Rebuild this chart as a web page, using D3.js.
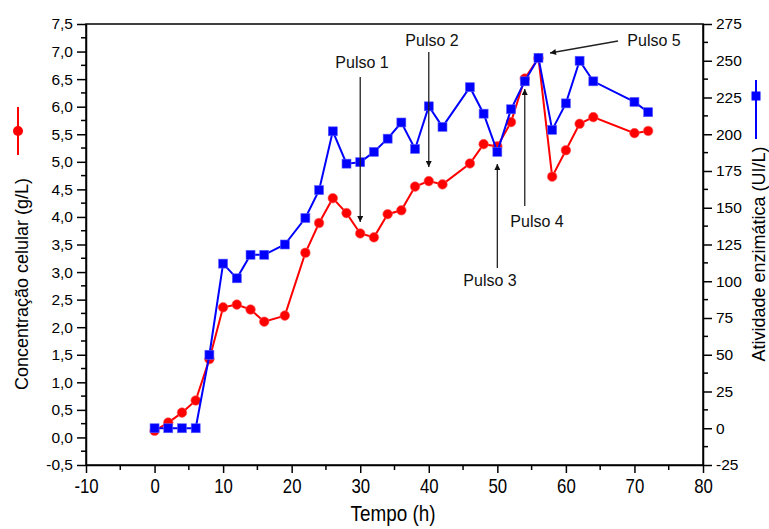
<!DOCTYPE html>
<html>
<head>
<meta charset="utf-8">
<script src="https://cdn.jsdelivr.net/npm/d3@7"></script>
<style>
  html, body { margin: 0; padding: 0; background: #fff; }
  svg { display: block; font-family: "Liberation Sans", Arial, sans-serif; }
</style>
</head>
<body>
<svg id="chart" width="769" height="529"></svg>
<script>
// Cultivation time (h)
const tempo = [0, 2, 4, 6, 8, 10, 12, 14, 16, 19, 22, 24, 26, 28, 30, 32, 34, 36, 38, 40, 42, 46, 48, 50, 52, 54, 56, 58, 60, 62, 64, 70, 72];
// Cell concentration (g/L) — left axis
const concentracao = [0.12, 0.27, 0.45, 0.67, 1.42, 2.36, 2.41, 2.32, 2.10, 2.21, 3.35, 3.89, 4.34, 4.07, 3.70, 3.63, 4.05, 4.12, 4.55, 4.65, 4.59, 4.97, 5.32, 5.28, 5.72, 6.51, 6.88, 4.73, 5.21, 5.69, 5.81, 5.52, 5.56];
// Enzyme activity (UI/L) — right axis
const atividade = [0, 0, 0, 0, 50, 112, 102, 118, 118, 125, 143, 162, 202, 180, 181, 188, 197, 208, 190, 219, 205, 232, 214, 188, 217, 236, 252, 203, 221, 250, 236, 222, 215];

// Axis ticks
const xTicks = [-10, 0, 10, 20, 30, 40, 50, 60, 70, 80];
const yLeftTicks = [-0.5, 0, 0.5, 1, 1.5, 2, 2.5, 3, 3.5, 4, 4.5, 5, 5.5, 6, 6.5, 7, 7.5];
const yRightTicks = [-25, 0, 25, 50, 75, 100, 125, 150, 175, 200, 225, 250, 275];

// Feed pulses and the time each one was given
const pulsos = [
  { label: "Pulso 1", t: 30 },
  { label: "Pulso 2", t: 40 },
  { label: "Pulso 3", t: 50 },
  { label: "Pulso 4", t: 54 },
  { label: "Pulso 5", t: 56 }
];

const svg = d3.select("#chart");
const L = 86, R = 703, T = 24, B = 465;

const x = d3.scaleLinear().domain([-10, 80]).range([L, R]);
const yL = d3.scaleLinear().domain([-0.5, 7.5]).range([B, T]);
const yR = d3.scaleLinear().domain([-25, 275]).range([B, T]);

const loc = d3.formatLocale({ decimal: ",", thousands: ".", grouping: [3], currency: ["", ""], minus: "-" });
const f1 = loc.format(".1f");
const f0 = loc.format("d");

const RED = "#ff0000", BLUE = "#0000ff";

// Frame
svg.append("rect").attr("x", L).attr("y", T).attr("width", R - L).attr("height", B - T)
  .attr("fill", "none").attr("stroke", "#000").attr("stroke-width", 1.5);

// Minor ticks
const g = svg.append("g").attr("stroke", "#000").attr("stroke-width", 1.5);
d3.range(-0.25, 7.5, 0.5).forEach(v => g.append("line").attr("x1", L - 5).attr("x2", L).attr("y1", yL(v)).attr("y2", yL(v)));
d3.range(-12.5, 275, 25).forEach(v => g.append("line").attr("x1", R).attr("x2", R + 5).attr("y1", yR(v)).attr("y2", yR(v)));
d3.range(-5, 80, 10).forEach(v => g.append("line").attr("x1", x(v)).attr("x2", x(v)).attr("y1", B).attr("y2", B + 5));

// Left axis
const axL = svg.append("g").attr("transform", `translate(${L},0)`)
  .call(d3.axisLeft(yL).tickValues(yLeftTicks).tickFormat(f1).tickSize(9).tickPadding(4).tickSizeOuter(0));
// Right axis
const axR = svg.append("g").attr("transform", `translate(${R},0)`)
  .call(d3.axisRight(yR).tickValues(yRightTicks).tickFormat(f0).tickSize(9).tickPadding(4).tickSizeOuter(0));
// Bottom axis
const axB = svg.append("g").attr("transform", `translate(0,${B})`)
  .call(d3.axisBottom(x).tickValues(xTicks).tickFormat(f0).tickSize(8).tickPadding(6).tickSizeOuter(0));

[axL, axR, axB].forEach(a => {
  a.select(".domain").attr("stroke-width", 1.5);
  a.selectAll(".tick line").attr("stroke-width", 1.5);
  a.selectAll(".tick text").attr("fill", "#000").style("font-family", "'Liberation Sans', Arial, sans-serif");
});
axL.selectAll(".tick text").style("font-size", "15.5px");
axR.selectAll(".tick text").style("font-size", "15.5px");
// bottom labels use a condensed face, centred under their ticks
axB.selectAll(".tick text").style("font-size", "20px").attr("transform", "scale(0.84,1)");

// Axis titles
svg.append("text").attr("x", 393).attr("y", 521)
  .attr("text-anchor", "middle").attr("transform", "translate(393,0) scale(0.84,1) translate(-393,0)")
  .style("font-size", "22.5px").text("Tempo (h)");

svg.append("text").attr("transform", "translate(22,284) rotate(-90)")
  .attr("text-anchor", "middle").attr("dominant-baseline", "central")
  .style("font-size", "18px").text("Concentração celular (g/L)");

svg.append("text").attr("transform", "translate(759,254) rotate(-90)")
  .attr("text-anchor", "middle").attr("dominant-baseline", "central")
  .style("font-size", "18px").text("Atividade enzimática (UI/L)");

// Legend symbols beside the axis titles
svg.append("line").attr("x1", 18).attr("x2", 18).attr("y1", 107).attr("y2", 155).attr("stroke", RED).attr("stroke-width", 2);
svg.append("circle").attr("cx", 18).attr("cy", 131).attr("r", 5).attr("fill", RED);
svg.append("line").attr("x1", 756).attr("x2", 756).attr("y1", 80).attr("y2", 139).attr("stroke", BLUE).attr("stroke-width", 2);
svg.append("rect").attr("x", 751.5).attr("y", 91.5).attr("width", 9).attr("height", 9).attr("fill", BLUE);

// Series
const concData = tempo.map((t, i) => ({ t, v: concentracao[i] }));
const ativData = tempo.map((t, i) => ({ t, v: atividade[i] }));

svg.append("path").datum(concData)
  .attr("d", d3.line().x(d => x(d.t)).y(d => yL(d.v)))
  .attr("fill", "none").attr("stroke", RED).attr("stroke-width", 2);
svg.append("g").selectAll("circle").data(concData).join("circle")
  .attr("cx", d => x(d.t)).attr("cy", d => yL(d.v)).attr("r", 4.8)
  .attr("fill", RED).attr("stroke", "#ff6060").attr("stroke-width", 0.6);

svg.append("path").datum(ativData)
  .attr("d", d3.line().x(d => x(d.t)).y(d => yR(d.v)))
  .attr("fill", "none").attr("stroke", BLUE).attr("stroke-width", 2);
svg.append("g").selectAll("rect").data(ativData).join("rect")
  .attr("x", d => x(d.t) - 4.5).attr("y", d => yR(d.v) - 4.5).attr("width", 9).attr("height", 9)
  .attr("fill", BLUE).attr("stroke", "#6060ff").attr("stroke-width", 0.6);

// Pulse annotations
const defs = svg.append("defs");
defs.append("marker").attr("id", "arrow").attr("viewBox", "0 0 10 10")
  .attr("refX", 10).attr("refY", 5).attr("markerWidth", 9).attr("markerHeight", 6)
  .attr("markerUnits", "userSpaceOnUse").attr("orient", "auto")
  .append("path").attr("d", "M0,0 L10,5 L0,10 Z").attr("fill", "#111");

const ann = svg.append("g").style("font-size", "16px").attr("fill", "#111");
const arrow = (x1, y1, x2, y2) => ann.append("line")
  .attr("x1", x1).attr("y1", y1).attr("x2", x2).attr("y2", y2)
  .attr("stroke", "#222").attr("stroke-width", 1.3).attr("marker-end", "url(#arrow)");
const label = (txt, cx, cy) => ann.append("text").attr("x", cx).attr("y", cy)
  .attr("text-anchor", "middle").attr("dominant-baseline", "central").text(txt);

// Pulso 1: down onto the cell curve
const p1 = x(pulsos[0].t);
label(pulsos[0].label, 362, 62); arrow(p1, 77, p1, 222);
// Pulso 2: down onto the cell curve
const p2 = x(pulsos[1].t);
label(pulsos[1].label, 432, 40); arrow(p2, 52, p2, 167);
// Pulso 3: up towards the activity curve
const p3 = x(pulsos[2].t);
label(pulsos[2].label, 490, 280); arrow(p3, 268, p3, 164);
// Pulso 4: up towards the curves
const p4 = x(pulsos[3].t);
label(pulsos[3].label, 537, 221); arrow(p4, 206, p4, 89);
// Pulso 5: pointing left at the peak
label(pulsos[4].label, 654, 40); arrow(618, 41, 550, 53);
</script>
</body>
</html>
